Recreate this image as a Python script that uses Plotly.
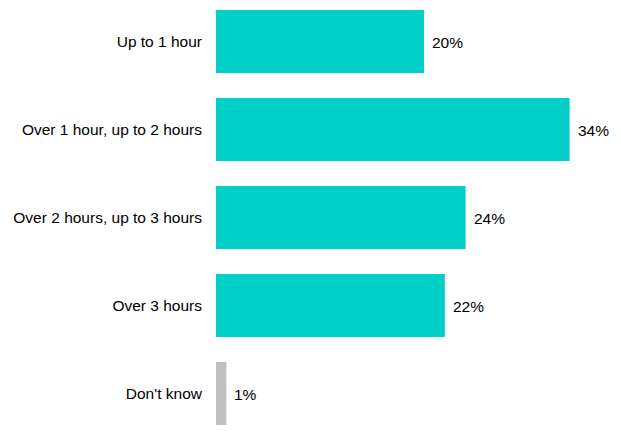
import plotly.graph_objects as go

categories = ["Up to 1 hour", "Over 1 hour, up to 2 hours", "Over 2 hours, up to 3 hours",
              "Over 3 hours", "Don't know"]
values = [20, 34, 24, 22, 1]
labels = ["20%", "34%", "24%", "22%", "1%"]
colors = ["#00CFC8", "#00CFC8", "#00CFC8", "#00CFC8", "#C0C0C0"]

fig = go.Figure(go.Bar(
    x=values, y=categories, orientation="h",
    marker=dict(color=colors, line=dict(width=0)),
    width=0.716, hoverinfo="skip",
))

# value labels just right of each bar
for cat, val, lab in zip(categories, values, labels):
    fig.add_annotation(x=val, y=cat, text=lab, showarrow=False,
                       xanchor="left", xshift=6, yshift=-1,
                       font=dict(family="Liberation Sans, Arial", size=15.5, color="#000000"))

# page body has an 8px margin, so the figure is sized/offset to fit the window
fig.update_yaxes(range=[4.4716, -0.3807], showgrid=False, zeroline=False,
                 showline=False, ticks="", ticklabelstandoff=13,
                 tickfont=dict(family="Liberation Sans, Arial", size=15.5, color="#000000"))
fig.update_xaxes(range=[0, 405 / 10.4], visible=False)

fig.update_layout(
    width=613, height=427,
    margin=dict(l=208, r=0, t=0, b=0, autoexpand=False),
    plot_bgcolor="white", paper_bgcolor="white",
    showlegend=False,
)

fig.write_html("out.html")
